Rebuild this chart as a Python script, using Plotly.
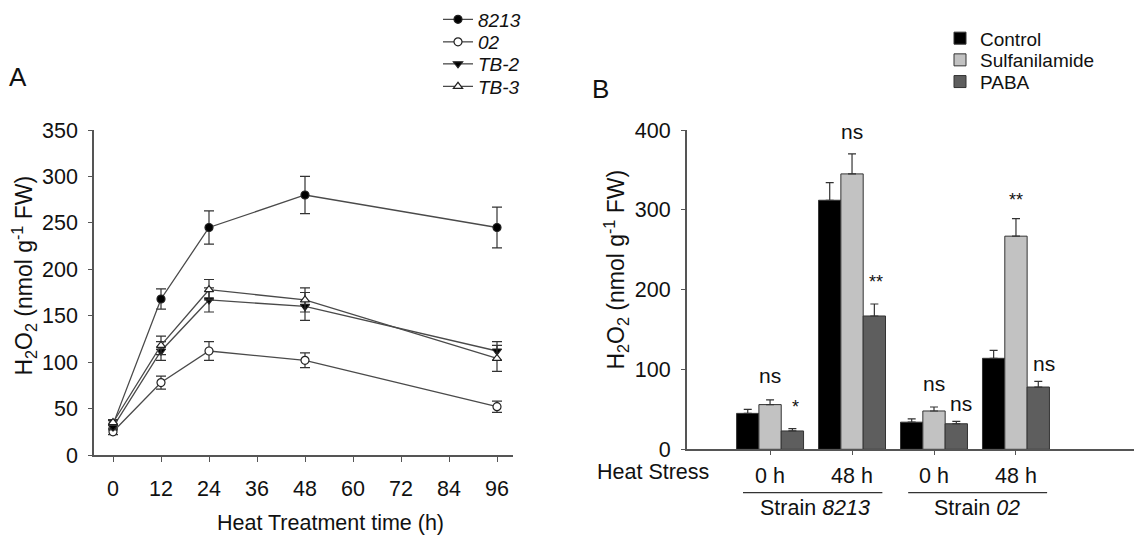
import plotly.graph_objects as go

# ---------------- Panel A data ----------------
hours = [0, 12, 24, 48, 96]
strain_names = ["8213", "02", "TB-2", "TB-3"]
a_8213 = [33, 168, 245, 280, 245]
a_8213_err = [4, 11, 18, 20, 22]
a_02 = [25, 78, 112, 102, 52]
a_02_err = [3, 7, 10, 8, 6]
a_tb2 = [30, 112, 167, 160, 112]
a_tb2_err = [3, 10, 13, 15, 10]
a_tb3 = [35, 118, 178, 167, 104]
a_tb3_err = [3, 10, 11, 13, 14]
a_xticks = [0, 12, 24, 36, 48, 60, 72, 84, 96]
a_yticks = [0, 50, 100, 150, 200, 250, 300, 350]

# ---------------- Panel B data ----------------
b_groups = [0, 1, 2, 3]
b_group_labels = ["0 h", "48 h", "0 h", "48 h"]
treatments = ["Control", "Sulfanilamide", "PABA"]
b_control = [45, 312, 34, 114]
b_control_err = [5, 22, 4, 10]
b_sulf = [56, 345, 48, 267]
b_sulf_err = [6, 25, 5, 22]
b_paba = [23, 167, 32, 78]
b_paba_err = [3, 15, 3, 7]
b_yticks = [0, 100, 200, 300, 400]
sig_x = [0, 0.31, 1, 1.29, 2, 2.33, 3, 3.345]
sig_y = [93, 53, 398, 210, 82, 58, 312, 108]
sig_text = ["ns", "*", "ns", "**", "ns", "ns", "**", "ns"]

FONT = "Liberation Sans, Arial, sans-serif"
AX = "#555555"
LINE = "#4a4a4a"
W, H = 1134, 535

fig = go.Figure()

# legend row centres (pixels from top)
a_leg_rows = [19.5, 42, 64, 86.5]
b_leg_rows = [38.3, 60, 81.7]

series = [
    (a_8213, a_8213_err, "circle", "black"),
    (a_02, a_02_err, "circle", "white"),
    (a_tb2, a_tb2_err, "triangle-down", "black"),
    (a_tb3, a_tb3_err, "triangle-up", "white"),
]
legend_layout = {}
for i, (name, (vals, errs, sym, fill)) in enumerate(zip(strain_names, series)):
    lid = "legend" if i == 0 else f"legend{i + 1}"
    fig.add_trace(go.Scatter(
        x=hours, y=vals, name=name, mode="lines+markers",
        line=dict(color=LINE, width=1.3),
        marker=dict(symbol=sym, size=8, color=fill,
                    line=dict(color="#222222", width=1.2)),
        error_y=dict(type="data", array=errs, color="#333333",
                     thickness=1.2, width=5),
        xaxis="x", yaxis="y", legend=lid,
    ))
    legend_layout[lid] = dict(
        x=438 / W, y=1 - a_leg_rows[i] / H, xanchor="left", yanchor="middle",
        font=dict(size=19, family=FONT, style="italic"),
        bgcolor="rgba(0,0,0,0)", borderwidth=0)

bar_series = [
    (b_control, b_control_err, "#000000"),
    (b_sulf, b_sulf_err, "#c2c2c2"),
    (b_paba, b_paba_err, "#5e5e5e"),
]
for j, (name, (vals, errs, col)) in enumerate(zip(treatments, bar_series)):
    lid = f"legend{5 + j}"
    fig.add_trace(go.Bar(
        x=b_groups, y=vals, name=name,
        marker=dict(color=col, line=dict(color="#333333", width=1)),
        error_y=dict(type="data", array=errs, arrayminus=[0] * len(errs),
                     symmetric=False, color="#333333", thickness=1.2, width=4),
        xaxis="x2", yaxis="y2", legend=lid,
    ))
    legend_layout[lid] = dict(
        x=940 / W, y=1 - b_leg_rows[j] / H, xanchor="left", yanchor="middle",
        font=dict(size=19, family=FONT),
        bgcolor="rgba(0,0,0,0)", borderwidth=0)

axis_common = dict(
    showline=True, linecolor=AX, linewidth=1.5, ticks="outside",
    tickcolor=AX, tickwidth=1.3, showgrid=False, zeroline=False,
    automargin=False,
    tickfont=dict(size=21.5, color="#111111", family=FONT),
)

fig.update_layout(
    width=W, height=H,
    margin=dict(l=0, r=0, t=0, b=0, pad=0, autoexpand=False),
    paper_bgcolor="white", plot_bgcolor="white",
    font=dict(family=FONT, color="#111111"),
    barmode="group", bargap=0.183, bargroupgap=0,
    xaxis=dict(domain=[94 / W, 513 / W], range=[-4.75, 100],
               tickvals=a_xticks, ticklen=5, ticklabelstandoff=8,
               anchor="y", **axis_common),
    yaxis=dict(domain=[80 / H, 405 / H], range=[0, 350],
               tickvals=a_yticks, ticklen=4, ticklabelstandoff=6,
               anchor="x", **axis_common),
    xaxis2=dict(domain=[686.7 / W, 1.0], range=[-1.017, 4.44],
                tickvals=b_groups, ticktext=b_group_labels, ticklen=4,
                ticklabelstandoff=2, anchor="y2", **axis_common),
    yaxis2=dict(domain=[85.7 / H, 405 / H], range=[0, 400],
                tickvals=b_yticks, ticklen=4, ticklabelstandoff=6,
                anchor="x2", **axis_common),
    showlegend=True,
    **legend_layout,
)

ytitle = "H<sub>2</sub>O<sub>2</sub> (nmol g<sup>-1</sup> FW)"
ann = [
    dict(text="A", x=18 / W, y=1 - 77 / H, font=dict(size=26)),
    dict(text="B", x=600 / W, y=1 - 89 / H, font=dict(size=26)),
    dict(text=ytitle, x=23 / W, y=1 - 275.5 / H, textangle=-90,
         font=dict(size=23)),
    dict(text=ytitle, x=615 / W, y=1 - 269.5 / H, textangle=-90,
         font=dict(size=23)),
    dict(text="Heat Treatment time (h)", x=330 / W, y=1 - 523 / H,
         font=dict(size=21.5)),
    dict(text="Heat Stress", x=653 / W, y=1 - 472 / H,
         font=dict(size=21.5)),
]
for a in ann:
    fig.add_annotation(xref="paper", yref="paper", showarrow=False,
                       xanchor="center", yanchor="middle", **a)

fig.add_annotation(text="Strain <i>8213</i>", xref="x2", yref="paper",
                   x=0.55, y=1 - 508 / H, showarrow=False, yanchor="middle",
                   font=dict(size=21.5))
fig.add_annotation(text="Strain <i>02</i>", xref="x2", yref="paper",
                   x=2.53, y=1 - 508 / H, showarrow=False, yanchor="middle",
                   font=dict(size=21.5))
for x0, x1 in [(-0.33, 1.37), (1.685, 3.38)]:
    fig.add_shape(type="line", xref="x2", yref="paper", x0=x0, x1=x1,
                  y0=1 - 492.7 / H, y1=1 - 492.7 / H,
                  line=dict(color="#333333", width=1.3))

for sx, sy, st in zip(sig_x, sig_y, sig_text):
    fig.add_annotation(text=st, xref="x2", yref="y2", x=sx, y=sy,
                       showarrow=False, yanchor="middle",
                       font=dict(size=21 if st == "ns" else 18))

fig.write_html("out.html", config={"displayModeBar": False},
               post_script="document.body.style.margin='0px';")
